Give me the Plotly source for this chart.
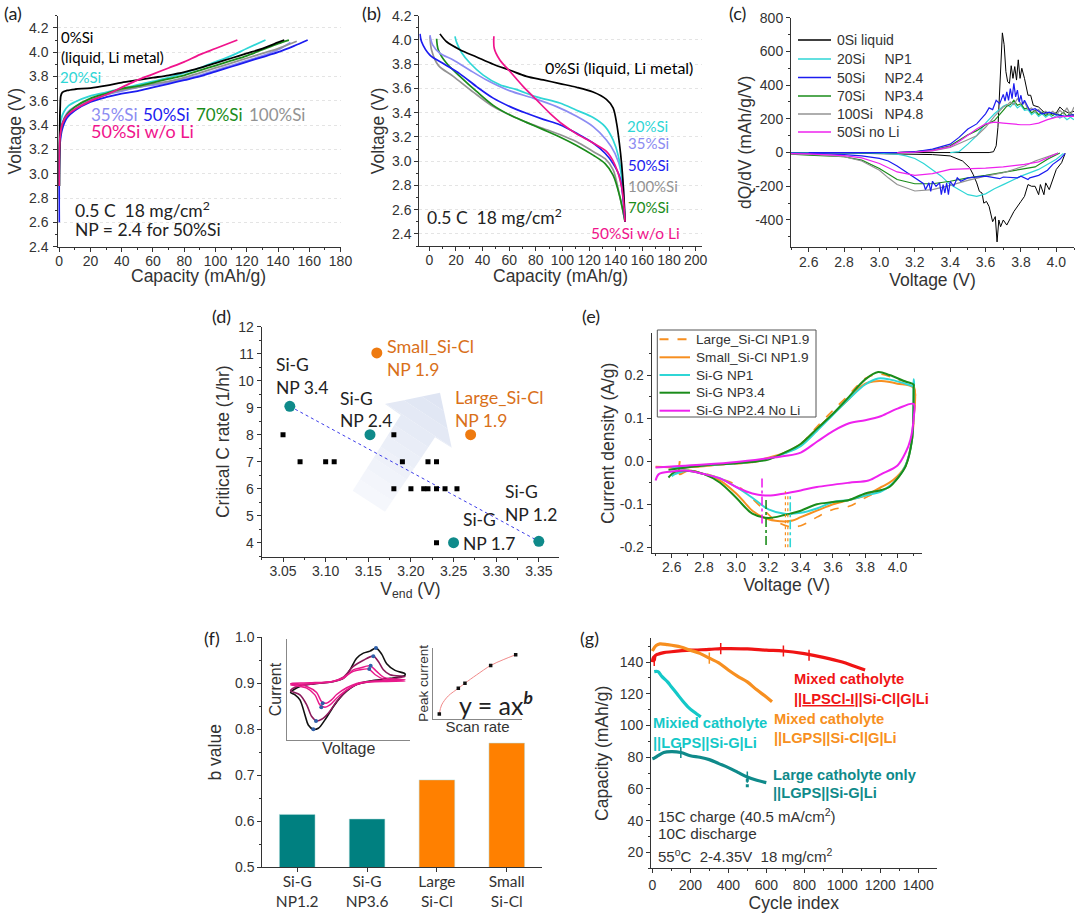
import plotly.graph_objects as go

W, H = 1080, 914
ARIAL = "Liberation Sans"
CAL = "Lato"
BLACK, CYAN, SLATE, BLUE = "#000000", "#2fd6d6", "#8c8cf2", "#1c1cf0"
GREEN, GREY, PINK, MAG = "#1a8c1a", "#939393", "#f0148c", "#ee22ee"
ORANGE, TEAL = "#f78f20", "#0f8a8a"

# ---------- panel (a): charge curves ----------
A_BLACK_X = [0,0.2,0.6,1,2,5,10,20,30,40,50,60,70,80,90,100,110,120,130,140,144]
A_BLACK_Y = [2.9,3.3,3.55,3.64,3.67,3.685,3.695,3.705,3.725,3.75,3.77,3.79,3.81,3.835,3.87,3.91,3.95,3.99,4.03,4.08,4.10]
A_CYAN_X = [0,0.3,1,3,6,10,20,30,40,50,60,70,80,90,100,110,120,132]
A_CYAN_Y = [2.9,3.3,3.44,3.51,3.56,3.59,3.64,3.67,3.70,3.73,3.76,3.79,3.83,3.87,3.92,3.97,4.03,4.10]
A_SLATE_X = [0,0.5,2,5,10,20,30,40,50,60,70,80,90,100,110,120,130,140,148]
A_SLATE_Y = [2.8,3.3,3.42,3.5,3.55,3.61,3.65,3.68,3.71,3.73,3.75,3.78,3.81,3.85,3.89,3.93,3.97,4.02,4.08]
A_BLUE_X = [0,0.5,2,5,10,20,30,40,50,60,70,80,90,100,110,120,130,140,150,159]
A_BLUE_Y = [2.6,3.25,3.37,3.46,3.52,3.59,3.63,3.66,3.68,3.71,3.74,3.77,3.80,3.84,3.88,3.92,3.96,4.00,4.05,4.10]
A_GREEN_X = [0,0.5,2,5,10,20,30,40,50,60,70,80,90,100,110,120,130,140,147]
A_GREEN_Y = [2.9,3.3,3.41,3.49,3.55,3.62,3.66,3.70,3.72,3.75,3.78,3.81,3.85,3.89,3.93,3.97,4.02,4.07,4.10]
A_GREY_X = [0,0.5,2,5,10,20,30,40,50,60,70,80,90,100,110,120,130,140,152]
A_GREY_Y = [2.9,3.28,3.40,3.47,3.53,3.60,3.65,3.69,3.71,3.74,3.76,3.79,3.83,3.87,3.91,3.95,3.99,4.03,4.09]
A_PINK_X = [0,0.5,2,5,10,20,30,40,50,60,70,80,90,100,114]
A_PINK_Y = [2.9,3.3,3.41,3.48,3.53,3.60,3.65,3.71,3.77,3.82,3.87,3.92,3.98,4.03,4.10]

# ---------- panel (b): discharge curves ----------
B_BLACK_X = [8,13,23,35.5,48,60.6,73,85.6,98,110.6,123,133,138,140.7,142.7,144.4,145.7,147]
B_BLACK_Y = [4.05,3.985,3.92,3.86,3.80,3.75,3.70,3.67,3.64,3.61,3.57,3.51,3.44,3.31,3.15,2.98,2.79,2.5]
B_CYAN_X = [19.3,20.5,24.3,30.5,40.5,53,65.6,80.6,98,110.6,123,132,138,142,144.4,147]
B_CYAN_Y = [4.03,3.98,3.895,3.81,3.71,3.63,3.59,3.53,3.48,3.42,3.36,3.285,3.175,3.04,2.87,2.5]
B_SLATE_X = [0.5,2.5,8,18,30.5,43,60.6,78,95.6,110.6,123,133,139.4,144.4,147]
B_SLATE_Y = [4.04,3.96,3.89,3.835,3.75,3.67,3.58,3.52,3.45,3.37,3.285,3.175,3.065,2.90,2.5]
B_BLUE_X = [-7,-5.8,0.5,10.5,23,35.5,48,60.6,73,85.6,98,110.6,123,132,138,143,147]
B_BLUE_Y = [4.05,3.985,3.875,3.805,3.72,3.615,3.52,3.45,3.395,3.345,3.30,3.23,3.15,3.065,2.98,2.87,2.5]
B_GREY_X = [0.5,1.7,6.8,18,33,48,60.6,73,85.6,98,110.6,123,132,138,143,147]
B_GREY_Y = [4.03,3.917,3.79,3.70,3.57,3.45,3.38,3.32,3.27,3.22,3.16,3.08,3.02,2.93,2.71,2.5]
B_GREEN_X = [5.5,6.8,13,23,35.5,48,60.6,73,85.6,98,110.6,123,132,138,143,147]
B_GREEN_Y = [4.01,3.917,3.807,3.70,3.575,3.46,3.38,3.32,3.26,3.20,3.13,3.05,2.98,2.885,2.71,2.5]
B_PINK_X = [48.5,48.8,53,60.6,70.6,80.6,90.6,100.6,110.6,123,133,139.4,144.4,147]
B_PINK_Y = [4.03,3.93,3.835,3.74,3.615,3.505,3.395,3.30,3.225,3.15,3.08,2.97,2.79,2.5]

# ---------- panel (c): dQ/dV ----------
C_BLACK_X = [2.5,3.0,3.62,3.645,3.66,3.67,3.68,3.69,3.695,3.705,3.715,3.725,3.735,3.745,3.755,3.765,3.775,3.785,3.795,3.805,3.82,3.84,3.855,3.87,3.9,3.93,3.96,4.0,4.02,4.04,4.07,4.1,None,
             4.05,4.03,4.0,3.98,3.96,3.94,3.93,3.91,3.9,3.88,3.86,3.84,3.82,3.80,3.78,3.76,3.74,3.72,3.70,3.685,3.675,3.665,3.655,3.64,3.62,3.605,3.59,3.58,3.565,3.55,3.53,3.51,3.47,3.4,3.3,3.2,3.0,2.8,2.6,2.5]
C_BLACK_Y = [0,0,0,5,40,150,400,650,710,640,480,420,410,515,440,510,430,550,440,500,440,340,340,280,270,240,230,235,270,250,235,245,None,
             -5,-60,-100,-160,-220,-180,-250,-190,-250,-200,-200,-190,-260,-290,-320,-350,-390,-430,-400,-440,-400,-530,-380,-410,-320,-290,-300,-240,-230,-180,-130,-90,-50,-20,-12,-10,-5,-3,-2,-1]
C_CYAN_X = [3.4,3.45,3.5,3.55,3.6,3.65,3.7,3.72,3.74,3.76,3.78,3.8,3.82,3.84,3.86,3.88,3.9,3.92,3.94,3.96,3.98,4.0,4.02,4.04,4.06,4.08,4.1,None,4.04,4.0,3.9,3.8,3.7,3.65,3.6,3.55,3.5,3.45,3.4,3.35,3.3,3.25,3.2,3.15,3.1,3.0,2.8,2.5]
C_CYAN_Y = [0,5,50,100,175,230,275,285,270,295,265,280,250,255,225,240,215,230,210,225,205,220,205,215,195,210,195,None,-5,-40,-100,-140,-190,-215,-245,-260,-250,-220,-190,-140,-100,-65,-35,-20,-10,-4,-2,-1]
C_GREEN_X = [3.1,3.2,3.3,3.4,3.5,3.55,3.6,3.65,3.7,3.72,3.74,3.76,3.78,3.8,3.82,3.84,3.86,3.88,3.9,3.92,3.94,3.96,3.98,4.0,4.02,4.04,4.06,4.08,4.1,None,4.02,3.95,3.88,3.8,3.7,3.6,3.5,3.4,3.3,3.2,3.1,3.05,3,2.9,2.8,2.6,2.5]
C_GREEN_Y = [0,5,15,40,105,130,165,190,250,275,285,310,280,290,260,265,235,250,225,240,220,235,220,235,220,240,215,235,215,None,-3,-40,-85,-100,-120,-135,-150,-170,-185,-185,-160,-125,-95,-45,-25,-15,-10]
C_GREY_X = [3.1,3.2,3.3,3.4,3.5,3.55,3.6,3.65,3.7,3.72,3.74,3.76,3.78,3.8,3.82,3.84,3.86,3.88,3.9,3.92,3.94,3.96,3.98,4.0,4.02,4.04,4.06,4.08,4.1,None,4.01,3.95,3.88,3.82,3.7,3.6,3.5,3.4,3.3,3.2,3.1,3.05,3,2.9,2.8,2.6,2.5]
C_GREY_Y = [0,3,10,30,75,100,150,215,270,280,300,285,320,290,300,255,265,240,255,230,245,230,245,225,250,230,265,225,270,None,-3,-25,-50,-80,-120,-140,-165,-195,-220,-228,-190,-150,-105,-50,-25,-10,-8]
C_MAG_X = [3.1,3.2,3.3,3.4,3.45,3.5,3.55,3.6,3.65,3.7,3.8,3.85,3.9,3.95,4,4.05,4.1,None,4.01,3.95,3.9,3.82,3.7,3.6,3.5,3.4,3.3,3.2,3.1,3.05,3,2.9,2.8,2.6,2.5]
C_MAG_Y = [0,3,12,35,65,105,140,170,180,175,165,165,175,195,210,215,215,None,-3,-30,-55,-70,-85,-92,-95,-100,-125,-135,-115,-90,-65,-32,-18,-8,-6]
C_BLUE_X = [2.6,3.1,3.2,3.3,3.4,3.45,3.5,3.55,3.6,3.62,3.64,3.66,3.68,3.7,3.71,3.72,3.73,3.74,3.75,3.76,3.77,3.78,3.79,3.8,3.81,3.82,3.85,3.88,3.92,3.96,4,4.05,4.1,None,
            4.05,4.02,3.98,3.95,3.9,3.85,3.84,3.8,3.78,3.7,3.68,3.6,3.5,3.46,3.44,3.42,3.40,3.39,3.38,3.37,3.36,3.35,3.34,3.32,3.3,3.29,3.28,3.26,3.25,3.2,3.15,3.1,3.05,3,2.9,2.8,2.6,2.5]
C_BLUE_Y = [0,0,5,20,50,90,140,170,230,265,255,310,290,345,305,360,310,380,320,410,330,370,300,340,285,310,250,260,230,240,225,215,225,None,
            -5,-40,-70,-105,-135,-150,-160,-140,-150,-145,-155,-140,-150,-170,-150,-200,-170,-250,-180,-240,-190,-250,-180,-200,-170,-230,-180,-220,-185,-150,-110,-80,-50,-35,-20,-12,-5,-3]

# ---------- panel (d): critical rate ----------
D_SQ_X = [3.05,3.07,3.10,3.11,3.18,3.19,3.22,3.23,3.18,3.20,3.215,3.22,3.23,3.24,3.254,3.23]
D_SQ_Y = [8,7,7,7,8,7,7,7,6,6,6,6,6,6,6,4]
D_TEAL_X = [3.058,3.152,3.25,3.35]
D_TEAL_Y = [9.05,8,4,4.05]
D_ORANGE_X = [3.16,3.27]
D_ORANGE_Y = [11.03,8]
D_FIT_X = [3.058,3.35]
D_FIT_Y = [9.05,4.05]

# ---------- panel (e): CV ----------
E_LARGE_X = [2.65,2.7,2.9,3.0,3.1,3.2,3.3,3.4,3.5,3.6,3.7,3.75,3.8,3.85,3.9,4.0,4.1,4.1,4.09,4.05,4.0,3.95,3.9,3.8,3.7,3.6,3.5,3.4,3.33,3.25,3.15,3.05,3.0,2.9,2.8,2.7,2.65]
E_LARGE_Y = [-0.015,-0.014,-0.008,-0.006,-0.003,0.005,0.018,0.04,0.08,0.118,0.155,0.175,0.192,0.2,0.202,0.19,0.175,0.1,0.05,-0.012,-0.04,-0.06,-0.068,-0.085,-0.105,-0.112,-0.13,-0.15,-0.152,-0.14,-0.105,-0.07,-0.055,-0.04,-0.028,-0.022,-0.03]
E_SMALL_X = [2.5,2.7,2.9,3.0,3.1,3.2,3.3,3.4,3.5,3.6,3.7,3.75,3.8,3.85,3.9,4.0,4.1,4.1,4.09,4.05,4.0,3.95,3.9,3.8,3.7,3.6,3.5,3.4,3.35,3.3,3.2,3.1,3.05,3.0,2.9,2.8,2.7,2.65,2.65]
E_SMALL_Y = [-0.013,-0.014,-0.008,-0.005,-0.002,0.008,0.02,0.04,0.075,0.11,0.145,0.165,0.18,0.185,0.186,0.18,0.17,0.1,0.05,-0.01,-0.035,-0.05,-0.06,-0.08,-0.09,-0.1,-0.115,-0.13,-0.138,-0.14,-0.135,-0.115,-0.095,-0.075,-0.045,-0.03,-0.022,-0.03,0]
E_CYAN_X = [2.6,2.8,3.0,3.2,3.3,3.4,3.5,3.6,3.7,3.8,3.88,3.95,4.05,4.1,4.1,4.09,4.05,4.0,3.95,3.9,3.8,3.7,3.6,3.5,3.4,3.3,3.2,3.1,3.0,2.9,2.8,2.7,2.62,2.6]
E_CYAN_Y = [-0.015,-0.01,-0.005,0.005,0.018,0.035,0.07,0.108,0.145,0.178,0.192,0.19,0.18,0.175,0.19,0.05,-0.01,-0.04,-0.058,-0.07,-0.08,-0.09,-0.095,-0.11,-0.12,-0.122,-0.112,-0.085,-0.06,-0.04,-0.03,-0.022,-0.03,-0.035]
E_GREEN_X = [2.58,2.8,3.0,3.2,3.3,3.4,3.5,3.6,3.7,3.8,3.88,3.95,4.05,4.1,4.1,4.09,4.05,4.0,3.95,3.9,3.8,3.7,3.6,3.5,3.4,3.3,3.2,3.1,3.0,2.9,2.8,2.7,2.62,2.58]
E_GREEN_Y = [-0.02,-0.01,-0.005,0.004,0.02,0.04,0.075,0.11,0.15,0.19,0.207,0.2,0.185,0.178,0.17,0.05,-0.012,-0.04,-0.06,-0.067,-0.075,-0.09,-0.095,-0.1,-0.115,-0.125,-0.132,-0.122,-0.085,-0.05,-0.03,-0.022,-0.025,-0.038]
E_MAG_X = [2.5,2.8,3.0,3.2,3.3,3.4,3.5,3.6,3.7,3.8,3.9,4,4.1,4.1,4.08,4.05,4.0,3.9,3.82,3.7,3.5,3.4,3.3,3.2,3.1,3,2.9,2.8,2.7,2.6,2.52,2.5]
E_MAG_Y = [-0.015,-0.008,-0.002,0.007,0.012,0.02,0.045,0.07,0.088,0.095,0.105,0.122,0.133,0.1,0.05,0.02,-0.01,-0.03,-0.045,-0.05,-0.06,-0.068,-0.075,-0.08,-0.075,-0.06,-0.04,-0.03,-0.022,-0.024,-0.03,-0.045]
E_VMAG_X, E_VMAG_Y = [3.16,3.16], [-0.145,-0.035]
E_VGRN_X, E_VGRN_Y = [3.185,3.185], [-0.195,-0.085]
E_VCYN_X, E_VCYN_Y = [3.335,3.335], [-0.2,-0.08]
E_VOR1_X, E_VOR1_Y = [3.305,3.305], [-0.2,-0.07]
E_VOR2_X, E_VOR2_Y = [3.32,3.32], [-0.2,-0.075]
E_TICKS = [-0.2,-0.1,0.0,0.1,0.2]
E_TICKTEXT = ["-0.2","-0.1","0.0","0.1","0.2"]
C_TICKS = [-400,-200,0,200,400,600,800]
C_TICKTEXT = ["-400","-200","0","200","400","600","800"]

# ---------- panel (f): b value ----------
F_CATS = ["Si-G<br>NP1.2","Si-G<br>NP3.6","Large<br>Si-Cl","Small<br>Si-Cl"]
F_VALS = [0.615,0.605,0.69,0.77]
F_COLORS = ["#008080","#008080","#ff8000","#ff8000"]
# insets (arbitrary units)
I1_BLACK_X = [2.7,10.3,21.2,37.5,45.7,51.1,56.5,62,67.4,72.3,76.9,81,87.8,95.9,95.9,83.7,67.4,56.5,48.4,42.9,37.5,30.7,25.3,21.2,17.1,14.4,10.3,6.3,2.7]
I1_BLACK_Y = [47,53,55.6,57.9,61,69.5,81,86,88,91,85,75.5,68.9,65.6,64,61,58.3,55,48.4,41.7,33,19.9,11.6,10.6,14.9,24.8,39.7,44.7,47]
I1_CRIM_X = [2.7,10.3,21.2,37.5,45.7,53.8,62,70.1,74.2,78.3,83.7,95.9,83.7,67.4,56.5,48.4,40.2,33.4,28,23.9,19.9,15.8,10.3,2.7]
I1_CRIM_Y = [49,54,55.6,57.9,62.3,72.8,79,83,77.8,69.5,64.6,62.9,60.3,57.9,55,49,38,26.5,20.5,18.9,23.2,34.8,44.7,49]
I1_PINK1_X = [2.7,18.5,37.5,45.7,53.8,59.2,67.4,72.8,78.3,86.4,95.9,81,67.4,56.5,48.4,40.2,34.8,30.7,26.6,22.5,15.8,2.7]
I1_PINK1_Y = [54.6,55.6,57.9,61,69.5,71.2,73.5,67.9,62.3,60.3,59.6,58.6,57.9,55,49.7,41.4,34.8,32.5,34.8,44.7,51.3,54.6]
I1_PINK2_X = [2.7,18.5,37.5,45.7,53.8,59.2,66.3,71.7,78.3,86.4,95.9,81,67.4,56.5,48.4,40.2,36,31.8,28,23.9,15.8,2.7]
I1_PINK2_Y = [56,56.6,58.3,62,67.9,69.5,70.2,64.6,60.3,59,58.3,58,57.5,56,51.7,45,39.7,36.4,38,47,53,56]
I1_PEAK_X = [72.3,70.1,67.9,66.8,21.2,23.4,27.7,28.8]
I1_PEAK_Y = [91,83,73.5,70.2,10.6,18.9,32.5,36.4]
I2_PT_X = [6.8,28.3,35.8,64.9,93.2]
I2_PT_Y = [6.6,43,50.2,75.3,90.5]
I2_FIT_X = [6.8,9.4,17,28.3,35.8,49,64.9,79,93.2]
I2_FIT_Y = [6.6,19.4,32.3,43,50.2,62,75.3,83.4,90.5]

# ---------- panel (g): cycling ----------
G_RED_X = [0,5,10,15,30,60,100,200,300,360,400,500,600,690,800,900,1000,1060,1120]
G_RED_Y = [140,143,141,144,145,146,146.5,147.5,148,148.5,148.5,148.3,147.5,147,145.3,143,140,137.5,135]
G_ORANGE_X = [0,10,20,40,80,150,200,250,300,350,400,450,500,550,600,630]
G_ORANGE_Y = [147,149,150.5,151.5,151,149.5,147.5,145.5,142.5,139.5,135,131,127.5,122.5,118,115]
G_CYAN_X = [10,30,50,80,100,130,160,190,220,255]
G_CYAN_Y = [134,134,131,127.5,124.5,120,115.5,111.5,108.5,105.5]
G_TEAL_X = [0,10,30,60,100,150,200,250,300,350,400,450,500,550,600]
G_TEAL_Y = [79,79.5,81,83,83.5,83,81,80,78.5,76,73.5,70.5,67.5,65.5,64]
G_OUT_X = [500,500]
G_OUT_Y = [62,65.5]
G_RED_BLIP_X = [10,360,690,825]
G_RED_BLIP_Y = [141,148.5,147,144.3]
G_ORANGE_BLIP_X = [300]
G_ORANGE_BLIP_Y = [142.5]
G_TEAL_BLIP_X = [150,500]
G_TEAL_BLIP_Y = [83,67.5]

fig = go.Figure()
TICKF = dict(family=ARIAL, size=14, color="#333333")
TITF = dict(family=ARIAL, size=17.5, color="#333333")


def ax(n, box, xr, yr, xt, yt, xd, yd, xm, ym, xstand=2, ystand=4, ygrid=False, **kw):
    l, r, t, b = box
    common = dict(showline=True, linecolor="#333333", linewidth=1, ticks="outside", ticklen=4,
                  tickcolor="#333333", tickfont=TICKF, showgrid=False, zeroline=False)
    sx = "" if n == 1 else str(n)
    xa = dict(common, domain=[l/W, r/W], range=xr, anchor=f"y{sx}", dtick=xd, tick0=kw.get("xt0", 0),
              tickformat=kw.get("xf", ""), title=dict(text=xt, font=TITF, standoff=xstand),
              ticklabelstandoff=kw.get("xls", 0),
              minor=dict(ticks="outside", ticklen=2, dtick=xm, tick0=kw.get("xt0", 0), tickcolor="#333333", showgrid=False))
    ya = dict(common, domain=[1-b/H, 1-t/H], range=yr, anchor=f"x{sx}", dtick=yd, tick0=kw.get("yt0", 0),
              tickformat=kw.get("yf", ""), title=dict(text=yt, font=TITF, standoff=ystand),
              ticklabelstandoff=kw.get("yls", 0),
              minor=dict(ticks="outside", ticklen=2, dtick=ym, tick0=kw.get("yt0", 0), tickcolor="#333333", showgrid=False))
    if ygrid:
        ya.update(showgrid=True, gridcolor="#e4e4e4", griddash="dot", gridwidth=1)
    if "ytv" in kw:
        ya.update(tickmode="array", tickvals=kw["ytv"], ticktext=kw["ytt"])
    fig.update_layout({f"xaxis{sx}": xa, f"yaxis{sx}": ya})


ax(1, (58.3, 340.5, 15.7, 246.7), [-0.6, 180], [2.4, 4.3], "", "Voltage (V)", 20, 0.2, 10, 0.1, yf=".1f", ygrid=True, ystand=2, xls=-3, yls=2)
ax(2, (419.3, 702.3, 15.7, 246), [-7.5, 205], [2.3, 4.2], "", "Voltage (V)", 20, 0.2, 10, 0.1, yf=".1f", ygrid=True, ystand=2, xls=-3)
ax(3, (791, 1074, 17.7, 247.3), [2.5, 4.1], [-562, 800], "Voltage (V)", "", 0.2, 200, 0.1, 100, xf=".1f", ytv=C_TICKS, ytt=C_TICKTEXT, xls=-2, xstand=0)
ax(4, (261.7, 559.3, 326.7, 556.7), [3.025, 3.374], [3.48, 12], "V<sub>end</sub> (V)", "Critical C rate (1/hr)", 0.05, 1, 0.025, 0.5, xf=".2f", xt0=3.05, xls=-3)
ax(5, (651.7, 921.7, 333.3, 553.3), [2.476, 4.15], [-0.214, 0.297], "Voltage (V)", "Current density (A/g)", 0.2, 0.1, 0.1, 0.05, xf=".1f", ytv=E_TICKS, ytt=E_TICKTEXT, xls=-3, ystand=0)
ax(6, (262.3, 541.7, 637.3, 867.3), [-0.5, 3.5], [0.5, 1.0], "", "b value", 1, 0.1, 1, 0.05, yf=".1f", ystand=8, xls=-4)
ax(7, (651, 936.7, 638.3, 868.3), [-7, 1497], [10, 155], "Cycle index", "Capacity (mAh/g)", 200, 20, 100, 10, xstand=0, ystand=6)
fig.update_xaxes(minor=dict(ticks="", dtick=None), tickmode="array", tickvals=[0, 1, 2, 3], ticktext=F_CATS,
                 tickfont=dict(family=CAL, size=15.5, color="#333333"), selector=dict(anchor="y6"))

# insets
INSET = dict(showline=True, linecolor="#888888", linewidth=1, ticks="", showticklabels=False, showgrid=False, zeroline=False)
INF = dict(family=ARIAL, size=16, color="#333333")
fig.update_layout(
    xaxis8=dict(INSET, domain=[287.3/W, 410/W], range=[0, 100], anchor="y8", title=dict(text="Voltage", font=INF, standoff=2)),
    yaxis8=dict(INSET, domain=[1-740/H, 1-639/H], range=[0, 100], anchor="x8", title=dict(text="Current", font=INF, standoff=0)),
    xaxis9=dict(INSET, domain=[433.3/W, 521.7/W], range=[0, 100], anchor="y9", title=dict(text="Scan rate", font=dict(family=ARIAL, size=15, color="#333333"), standoff=2)),
    yaxis9=dict(INSET, domain=[1-718.7/H, 1-648/H], range=[0, 100], anchor="x9", title=dict(text="Peak current", font=dict(family=ARIAL, size=13.5, color="#333333"), standoff=0)),
)


def line(n, x, y, color, width=1.6, name=None, spline=True, dash=None):
    sx = "" if n == 1 else str(n)
    ln = dict(color=color, width=width)
    if spline:
        ln.update(shape="spline", smoothing=0.9)
    if dash:
        ln["dash"] = dash
    fig.add_trace(go.Scatter(x=x, y=y, mode="lines", line=ln, xaxis=f"x{sx}", yaxis=f"y{sx}", name=name or "",
                             showlegend=False, hoverinfo="skip"))


def blips(x, y, color):
    fig.add_trace(go.Scatter(x=x, y=y, mode="markers", marker=dict(symbol="line-ns", size=8, line=dict(color=color, width=1.5)),
                             xaxis="x7", yaxis="y7", showlegend=False, hoverinfo="skip"))


for xs, ys, c in [(A_CYAN_X, A_CYAN_Y, CYAN), (A_SLATE_X, A_SLATE_Y, SLATE), (A_GREY_X, A_GREY_Y, GREY), (A_BLUE_X, A_BLUE_Y, BLUE),
                  (A_GREEN_X, A_GREEN_Y, GREEN), (A_BLACK_X, A_BLACK_Y, BLACK), (A_PINK_X, A_PINK_Y, PINK)]:
    line(1, xs, ys, c, 1.8)
for xs, ys, c in [(B_GREY_X, B_GREY_Y, GREY), (B_GREEN_X, B_GREEN_Y, GREEN), (B_SLATE_X, B_SLATE_Y, SLATE), (B_CYAN_X, B_CYAN_Y, CYAN),
                  (B_BLUE_X, B_BLUE_Y, BLUE), (B_BLACK_X, B_BLACK_Y, BLACK), (B_PINK_X, B_PINK_Y, PINK)]:
    line(2, xs, ys, c, 1.7)

NB = "\u00a0"
C_NAMES = ["0Si liquid", f"20Si{NB*5}NP1", f"50Si{NB*5}NP2.4", f"70Si{NB*5}NP3.4", f"100Si{NB*3}NP4.8", "50Si no Li"]
E_NAMES = ["Large_Si-Cl NP1.9", "Small_Si-Cl NP1.9", "Si-G NP1", "Si-G NP3.4", "Si-G NP2.4 No Li"]
line(3, C_BLACK_X, C_BLACK_Y, BLACK, 1, C_NAMES[0], False)
line(3, C_CYAN_X, C_CYAN_Y, CYAN, 1.2, C_NAMES[1], False)
line(3, C_GREEN_X, C_GREEN_Y, GREEN, 1.2, C_NAMES[3], False)
line(3, C_GREY_X, C_GREY_Y, GREY, 1.2, C_NAMES[4], False)
line(3, C_BLUE_X, C_BLUE_Y, BLUE, 1.2, C_NAMES[2], False)
line(3, C_MAG_X, C_MAG_Y, MAG, 1.2, C_NAMES[5], False)

line(4, D_FIT_X, D_FIT_Y, "#3c3ce8", 1, spline=False, dash="dot")
fig.add_trace(go.Scatter(x=D_SQ_X, y=D_SQ_Y, mode="markers", marker=dict(symbol="square", size=5, color="#000000"), xaxis="x4", yaxis="y4", showlegend=False, hoverinfo="skip"))
fig.add_trace(go.Scatter(x=D_TEAL_X, y=D_TEAL_Y, mode="markers", marker=dict(size=11, color=TEAL), xaxis="x4", yaxis="y4", showlegend=False, hoverinfo="skip"))
fig.add_trace(go.Scatter(x=D_ORANGE_X, y=D_ORANGE_Y, mode="markers", marker=dict(size=11, color="#ee7a10"), xaxis="x4", yaxis="y4", showlegend=False, hoverinfo="skip"))

line(5, E_LARGE_X, E_LARGE_Y, ORANGE, 1.6, E_NAMES[0], True, dash="dash")
line(5, E_SMALL_X, E_SMALL_Y, ORANGE, 2, E_NAMES[1], True)
line(5, E_CYAN_X, E_CYAN_Y, CYAN, 2, E_NAMES[2], True)
line(5, E_GREEN_X, E_GREEN_Y, GREEN, 2, E_NAMES[3], True)
line(5, E_MAG_X, E_MAG_Y, MAG, 2, E_NAMES[4], True)
line(5, E_VMAG_X, E_VMAG_Y, MAG, 1.6, spline=False, dash="dashdot")
line(5, E_VGRN_X, E_VGRN_Y, GREEN, 1.6, spline=False, dash="dashdot")
line(5, E_VCYN_X, E_VCYN_Y, CYAN, 1.6, spline=False, dash="dashdot")
line(5, E_VOR1_X, E_VOR1_Y, ORANGE, 1.2, spline=False, dash="dot")
line(5, E_VOR2_X, E_VOR2_Y, ORANGE, 1.2, spline=False, dash="dot")

fig.add_trace(go.Bar(x=[0, 1, 2, 3], y=F_VALS, width=0.51, marker=dict(color=F_COLORS, line=dict(color="#b5dcdc", width=0.5)), xaxis="x6", yaxis="y6", showlegend=False, hoverinfo="skip"))

line(7, G_RED_X, G_RED_Y, "#f01414", 3.2)
line(7, G_ORANGE_X, G_ORANGE_Y, ORANGE, 3.2)
line(7, G_CYAN_X, G_CYAN_Y, "#14c8c8", 3.2)
line(7, G_TEAL_X, G_TEAL_Y, TEAL, 3.2)
blips(G_RED_BLIP_X, G_RED_BLIP_Y, "#f01414")
blips(G_ORANGE_BLIP_X, G_ORANGE_BLIP_Y, ORANGE)
blips(G_TEAL_BLIP_X, G_TEAL_BLIP_Y, TEAL)
fig.add_trace(go.Scatter(x=G_OUT_X, y=G_OUT_Y, mode="markers", marker=dict(symbol="square", size=3, color=TEAL), xaxis="x7", yaxis="y7", showlegend=False, hoverinfo="skip"))

line(8, I1_BLACK_X, I1_BLACK_Y, "#111111", 1.6)
line(8, I1_CRIM_X, I1_CRIM_Y, "#8b1a5b", 1.6)
line(8, I1_PINK1_X, I1_PINK1_Y, "#e8198b", 1.5)
line(8, I1_PINK2_X, I1_PINK2_Y, "#e8198b", 1.5)
fig.add_trace(go.Scatter(x=I1_PEAK_X, y=I1_PEAK_Y, mode="markers", marker=dict(size=4, color="#2f5fa8"), xaxis="x8", yaxis="y8", showlegend=False, hoverinfo="skip"))
line(9, I2_FIT_X, I2_FIT_Y, "#f08a8a", 1)
fig.add_trace(go.Scatter(x=I2_PT_X, y=I2_PT_Y, mode="markers", marker=dict(symbol="square", size=3.5, color="#111111"), xaxis="x9", yaxis="y9", showlegend=False, hoverinfo="skip"))

# annotations
ann = []


def note(x, y, text, color="#222222", size=15, fam=CAL, anchor="left", angle=0):
    ann.append(dict(xref="paper", yref="paper", x=(x-1)/W, y=1-y/H, text=text, showarrow=False, xanchor=anchor, yanchor="middle",
                    font=dict(family=fam, size=size, color=color), borderpad=0, align="left", textangle=angle))


for x, y, t in [(4, 13, "(a)"), (362, 13, "(b)"), (729, 13, "(c)"), (212, 316, "(d)"), (582, 316, "(e)"), (204, 638, "(f)"), (580, 638, "(g)")]:
    note(x, y, t, "#222222", 18)

note(199, 276, "Capacity (mAh/g)", "#333333", 17.5, ARIAL, "center")
note(561, 276, "Capacity (mAh/g)", "#333333", 17.5, ARIAL, "center")
note(746, 143, "dQ/dV (mAh/g/V)", "#333333", 17.5, ARIAL, "center", -90)

note(61, 37, "0%Si", BLACK, 15)
note(61, 57, "(liquid, Li metal)", BLACK, 15)
note(60, 77, "20%Si", CYAN, 15)
note(91, 115, "35%Si", SLATE, 17)
note(143, 115, "50%Si", BLUE, 17)
note(196, 115, "70%Si", GREEN, 17)
note(249, 115, "100%Si", GREY, 17)
note(91, 131, "50%Si w/o Li", PINK, 18)
note(75, 209, "0.5 C  18 mg/cm<sup>2</sup>", "#222222", 17.5)
note(75, 230, "NP = 2.4 for 50%Si", "#222222", 17.5)

note(545, 67, "0%Si (liquid, Li metal)", BLACK, 16)
note(627, 126, "20%Si", CYAN, 15)
note(628, 143, "35%Si", SLATE, 15)
note(628, 165, "50%Si", BLUE, 15)
note(628, 186, "100%Si", GREY, 15)
note(628, 207, "70%Si", GREEN, 15)
note(591, 233, "50%Si w/o Li", PINK, 15.5)
note(427, 217, "0.5 C  18 mg/cm<sup>2</sup>", "#222222", 17.5)

for x, y, t, c, s in [(276, 364, "Si-G", "#222222", 17.5), (276, 387, "NP 3.4", "#222222", 17.5), (340, 398, "Si-G", "#222222", 17.5), (340, 421, "NP 2.4", "#222222", 17.5),
                      (387, 346, "Small_Si-Cl", "#d9701a", 18), (387, 369, "NP 1.9", "#d9701a", 17.5), (455, 397, "Large_Si-Cl", "#d9701a", 18), (455, 421, "NP 1.9", "#d9701a", 17.5),
                      (505, 491, "Si-G", "#222222", 17.5), (505, 514, "NP 1.2", "#222222", 17.5), (463, 519, "Si-G", "#222222", 17.5), (463, 543, "NP 1.7", "#222222", 17.5)]:
    note(x, y, t, c, s)

note(459, 703, "y = ax<sup><b><i>b</i></b></sup>", "#222222", 25)

for x, y, t, c in [(794, 679, "Mixed catholyte", "#f01414"), (794, 699, "||<u>LPSCl-I</u>||Si-Cl|G|Li", "#f01414"),
                   (774, 719, "Mixed catholyte", ORANGE), (774, 738, "||LGPS||Si-Cl|G|Li", ORANGE),
                   (653, 723, "Mixied catholyte", "#14c8c8"), (653, 743, "||LGPS||Si-G|Li", "#14c8c8"),
                   (773, 775, "Large catholyte only", TEAL), (773, 793, "||LGPS||Si-G|Li", TEAL)]:
    note(x, y, f"<b>{t}</b>", c, 14.7, ARIAL)
note(658, 815, "15C charge (40.5 mA/cm<sup>2</sup>)", "#333333", 15, ARIAL)
note(658, 833, "10C discharge", "#333333", 15.3, ARIAL)
note(658, 855, "55<sup>o</sup>C  2-4.35V  18 mg/cm<sup>2</sup>", "#333333", 15, ARIAL)

# legends of (c) and (e), laid out to the reference's tight rows
shapes = []


def paper_line(x0, x1, y, color, width, dash="solid"):
    shapes.append(dict(type="line", xref="paper", yref="paper", x0=x0/W, x1=x1/W, y0=1-y/H, y1=1-y/H,
                       line=dict(color=color, width=width, dash=dash)))


for y, t, c in zip([40, 59, 77.5, 96, 114, 132], C_NAMES, [BLACK, CYAN, BLUE, GREEN, GREY, MAG]):
    paper_line(798, 831, y, c, 1.4)
    note(837, y, t, "#333333", 14, ARIAL)
shapes.append(dict(type="rect", xref="paper", yref="paper", x0=657.3/W, x1=816/W, y0=1-417/H, y1=1-330/H,
                   line=dict(color="#555555", width=1), fillcolor="rgba(255,255,255,0.85)", layer="above"))
for y, t, c, d in zip([339.3, 357.3, 375, 392.7, 410.7], E_NAMES, [ORANGE, ORANGE, CYAN, GREEN, MAG], ["dash", "solid", "solid", "solid", "solid"]):
    paper_line(659.5, 690, y, c, 2, d)
    note(696, y, t, "#333333", 13.6, ARIAL)

# gradient arrow in panel (d): outline measured in page pixels


def clip(poly, a, b, c):
    out = []
    for i, p in enumerate(poly):
        q = poly[(i+1) % len(poly)]
        dp, dq = a*p[0]+b*p[1]-c, a*q[0]+b*q[1]-c
        if dp >= 0:
            out.append(p)
        if dp*dq < 0:
            t = dp/(dp-dq)
            out.append((p[0]+t*(q[0]-p[0]), p[1]+t*(q[1]-p[1])))
    return out


ARROW = [(352.7, 490.7), (385, 511.7), (435, 437.3), (451.7, 447.7), (440, 392.7), (385, 404), (400.7, 415)]
tail, tip = (369, 501), (440, 393)
dx, dy = tip[0]-tail[0], tip[1]-tail[1]
NB_SL = 10
for i in range(NB_SL):
    f0, f1 = i/NB_SL, (i+1)/NB_SL
    c0 = dx*(tail[0]+f0*dx)+dy*(tail[1]+f0*dy)
    c1 = dx*(tail[0]+f1*dx)+dy*(tail[1]+f1*dy)
    lo = -1e12 if i == 0 else c0
    hi = 1e12 if i == NB_SL-1 else c1
    pl = clip(clip(ARROW, dx, dy, lo), -dx, -dy, -hi)
    if len(pl) < 3:
        continue
    path = "M" + " L".join(f"{p[0]/W:.5f} {1-p[1]/H:.5f}" for p in pl) + " Z"
    s = (i+0.5)/NB_SL
    col = f"rgb({int(247-25*s)},{int(249-21*s)},{int(253-10*s)})"
    shapes.append(dict(type="path", xref="paper", yref="paper", path=path, fillcolor=col, line=dict(width=0), layer="below"))

fig.update_layout(
    width=W, height=H, autosize=False, margin=dict(l=0, r=0, t=0, b=0, autoexpand=False),
    paper_bgcolor="white", plot_bgcolor="rgba(0,0,0,0)", showlegend=False, barmode="overlay",
    annotations=ann, shapes=shapes,
)

PAGE_JS = "document.documentElement.style.margin='0';document.body.style.margin='0';document.body.style.padding='0';document.body.style.overflow='hidden';"
fig.write_html("out.html", post_script=PAGE_JS, config=dict(displayModeBar=False))
